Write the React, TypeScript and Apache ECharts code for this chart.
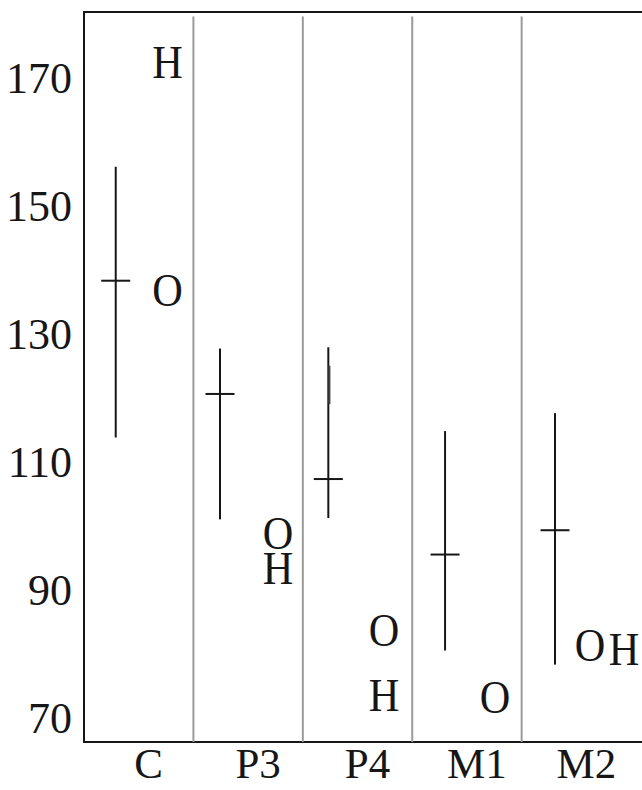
import React, { useEffect, useRef } from "react";
import * as echarts from "echarts";

const categories = ["C", "P3", "P4", "M1", "M2"];
const yTicks = [70, 90, 110, 130, 150, 170];
const categoryCenters = [0.5, 1.5, 2.5, 3.5, 4.5];
const separators = [1, 2, 3, 4];

// range bars (x in category units)
const rangeX = [0.29, 1.243, 2.233, 3.3, 4.305];
const rangeLow = [113.9, 101.1, 101.3, 80.6, 78.4];
const rangeHigh = [156.2, 127.8, 128.0, 114.9, 117.7];
const rangeMean = [138.4, 120.7, 107.4, 95.6, 99.4];

// extra overlapping segment (P4)
const extraX = [2.243];
const extraLow = [119.1];
const extraHigh = [125.1];

// letter markers
const markerLabels = ["H", "O", "O", "H", "O", "H", "O", "O", "H"];
const markerX = [0.763, 0.763, 1.773, 1.773, 2.742, 2.742, 3.757, 4.625, 4.936];
const markerY = [172.4, 136.8, 98.8, 93.3, 83.7, 73.5, 73.2, 81.3, 80.7];

const Y_MIN = 66.3;
const Y_MAX = 180.4;
const X_MAX = 5.1;
const SEP_TOP = 179.7;

const SERIF = "'Liberation Serif', 'Times New Roman', serif";
const INK = "#161616";

export default function App() {
  const ref = useRef<HTMLDivElement>(null);

  useEffect(() => {
    if (!ref.current) return;
    const chart = echarts.init(ref.current, null, { renderer: "svg" });

    const rangeData = rangeX.map((x, i) => [x, rangeLow[i], rangeHigh[i], rangeMean[i]]);
    const extraData = extraX.map((x, i) => [x, extraLow[i], extraHigh[i]]);
    const markerData = markerX.map((x, i) => [x, markerY[i], markerLabels[i]]);
    const sepData = separators.map((s) => [s, Y_MIN, SEP_TOP]);

    chart.setOption({
      animation: false,
      grid: { left: 84, right: 0, top: 12, bottom: 48, containLabel: false },
      xAxis: [
        {
          type: "value",
          min: 0,
          max: X_MAX,
          position: "bottom",
          axisLine: { show: true, onZero: false, lineStyle: { color: INK, width: 2 } },
          axisTick: { show: false },
          splitLine: { show: false },
          axisLabel: {
            customValues: categoryCenters,
            formatter: (v: number) => categories[Math.floor(v)] ?? "",
            fontFamily: SERIF,
            fontSize: 43,
            lineHeight: 28,
            color: INK,
            margin: 7,
            padding: [0, 0, 0, 20],
          },
        },
        {
          type: "value",
          min: 0,
          max: X_MAX,
          position: "top",
          axisLine: { show: true, onZero: false, lineStyle: { color: INK, width: 2 } },
          axisTick: { show: false },
          splitLine: { show: false },
          axisLabel: { show: false },
        },
      ],
      yAxis: {
        type: "value",
        min: Y_MIN,
        max: Y_MAX,
        axisLine: { show: true, onZero: false, lineStyle: { color: INK, width: 2 } },
        axisTick: { show: false },
        splitLine: { show: false },
        axisLabel: {
          customValues: yTicks,
          fontFamily: SERIF,
          fontSize: 44,
          color: INK,
          margin: 12,
        },
      },
      series: [
        {
          type: "custom",
          data: sepData,
          silent: true,
          renderItem: (_p: any, api: any) => {
            const a = api.coord([api.value(0), api.value(1)]);
            const b = api.coord([api.value(0), api.value(2)]);
            return {
              type: "line",
              shape: { x1: a[0], y1: a[1], x2: b[0], y2: b[1] },
              style: { stroke: "#9a9a9a", lineWidth: 2 },
            };
          },
        },
        {
          type: "custom",
          data: rangeData,
          silent: true,
          renderItem: (_p: any, api: any) => {
            const x = api.value(0);
            const lo = api.coord([x, api.value(1)]);
            const hi = api.coord([x, api.value(2)]);
            const m = api.coord([x, api.value(3)]);
            return {
              type: "group",
              children: [
                {
                  type: "line",
                  shape: { x1: lo[0], y1: lo[1], x2: hi[0], y2: hi[1] },
                  style: { stroke: INK, lineWidth: 2 },
                },
                {
                  type: "line",
                  shape: { x1: m[0] - 14.5, y1: m[1], x2: m[0] + 14.5, y2: m[1] },
                  style: { stroke: INK, lineWidth: 2 },
                },
              ],
            };
          },
        },
        {
          type: "custom",
          data: extraData,
          silent: true,
          renderItem: (_p: any, api: any) => {
            const x = api.value(0);
            const lo = api.coord([x, api.value(1)]);
            const hi = api.coord([x, api.value(2)]);
            return {
              type: "line",
              shape: { x1: lo[0], y1: lo[1], x2: hi[0], y2: hi[1] },
              style: { stroke: "#444", lineWidth: 2 },
            };
          },
        },
        {
          type: "custom",
          data: markerData,
          silent: true,
          clip: false,
          renderItem: (params: any, api: any) => {
            const p = api.coord([api.value(0), api.value(1)]);
            return {
              type: "text",
              x: p[0],
              y: p[1],
              scaleX: 0.92,
              style: {
                text: markerLabels[params.dataIndex],
                fontFamily: SERIF,
                fontSize: 46,
                fill: INK,
                align: "center",
                verticalAlign: "middle",
              },
            };
          },
        },
      ],
    });

    return () => chart.dispose();
  }, []);

  return (
    <div
      ref={ref}
      style={{ position: "absolute", left: 0, top: 0, width: 642, height: 790, background: "#fff" }}
    />
  );
}
